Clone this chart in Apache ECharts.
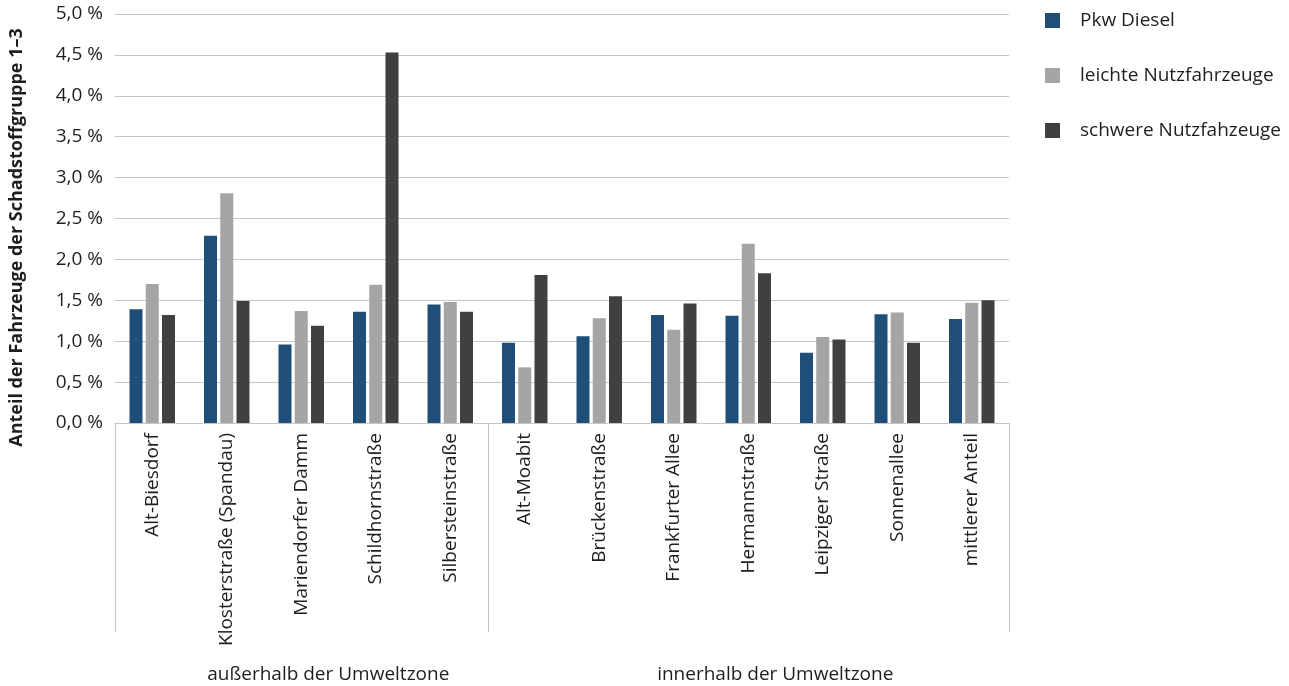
<!DOCTYPE html>
<html>
<head>
<meta charset="utf-8">
<script src="https://cdn.jsdelivr.net/npm/echarts@6/dist/echarts.min.js"></script>
<style>
  html, body { margin: 0; padding: 0; background: #ffffff; }
  #chart { width: 1289px; height: 686px; }
</style>
</head>
<body>
<div id="chart"></div>
<script>
// Messstellen (Kategorien), nach Lage zur Umweltzone gruppiert
const categories = [
  'Alt-Biesdorf', 'Klosterstraße (Spandau)', 'Mariendorfer Damm', 'Schildhornstraße', 'Silbersteinstraße',
  'Alt-Moabit', 'Brückenstraße', 'Frankfurter Allee', 'Hermannstraße', 'Leipziger Straße', 'Sonnenallee', 'mittlerer Anteil'
];
const groupNames = ['außerhalb der Umweltzone', 'innerhalb der Umweltzone'];
const groupSizes = [5, 7];

const seriesNames = ['Pkw Diesel', 'leichte Nutzfahrzeuge', 'schwere Nutzfahzeuge'];

// Anteil der Fahrzeuge der Schadstoffgruppe 1–3 in %
const pkwDiesel      = [1.39, 2.29, 0.96, 1.36, 1.45, 0.98, 1.06, 1.32, 1.31, 0.86, 1.33, 1.27];
const leichteNfz     = [1.70, 2.81, 1.37, 1.69, 1.48, 0.68, 1.28, 1.14, 2.19, 1.05, 1.35, 1.47];
const schwereNfz     = [1.32, 1.49, 1.19, 4.53, 1.36, 1.81, 1.55, 1.46, 1.83, 1.02, 0.98, 1.50];

const yTicks = [0, 0.5, 1, 1.5, 2, 2.5, 3, 3.5, 4, 4.5, 5];

const colors = ['#1F4E79', '#A5A5A5', '#404040'];
const FONT = '"Open Sans", sans-serif';
const FS = 19;
const TEXT = '#1e1e1e';
const LINE = '#C6C6C6';

const chart = echarts.init(document.getElementById('chart'), null, { renderer: 'canvas' });

const values = [pkwDiesel, leichteNfz, schwereNfz];

const option = {
  animation: false,
  backgroundColor: '#ffffff',
  textStyle: { fontFamily: FONT },
  grid: { left: 115, right: 280, top: 14, bottom: 263, containLabel: false },
  legend: {
    orient: 'vertical',
    left: 1040,
    top: 6,
    itemWidth: 15,
    itemHeight: 15,
    itemGap: 36,
    icon: 'rect',
    textStyle: { fontFamily: FONT, fontSize: FS, color: TEXT, padding: [0, 0, 0, 15] },
    data: seriesNames
  },
  xAxis: {
    type: 'category',
    data: categories,
    boundaryGap: true,
    axisLine: { show: true, lineStyle: { color: LINE, width: 1 } },
    axisTick: { show: false },
    axisLabel: {
      rotate: 90,
      margin: 10,
      interval: 0,
      fontFamily: FONT,
      fontSize: FS,
      color: TEXT
    }
  },
  yAxis: {
    type: 'value',
    min: yTicks[0],
    max: yTicks[yTicks.length - 1],
    interval: yTicks[1] - yTicks[0],
    axisLine: { show: false },
    axisTick: { show: false },
    splitLine: { lineStyle: { color: LINE, width: 1 } },
    axisLabel: {
      margin: 12,
      fontFamily: FONT,
      fontSize: FS,
      color: TEXT,
      formatter: v => v.toFixed(1).replace('.', ',') + ' %'
    }
  },
  series: seriesNames.map((name, i) => ({
    name: name,
    type: 'bar',
    data: values[i],
    barWidth: 13,
    barGap: '25%',
    itemStyle: { color: colors[i] }
  }))
};

chart.setOption(option);

// Gruppenrahmen unter der Kategorieachse und Gruppenbeschriftungen
function drawGroups() {
  const c0 = chart.convertToPixel({ xAxisIndex: 0 }, 0);
  const c1 = chart.convertToPixel({ xAxisIndex: 0 }, 1);
  const band = c1 - c0;
  const yBase = chart.convertToPixel({ yAxisIndex: 0 }, 0);
  const yTop = chart.convertToPixel({ yAxisIndex: 0 }, yTicks[yTicks.length - 1]);
  const boxDepth = 209;
  const elements = [];
  let start = 0;
  const bounds = [start];
  groupSizes.forEach(n => { start += n; bounds.push(start); });
  bounds.forEach(b => {
    const x = Math.round(c0 - band / 2 + b * band) + 0.5;
    elements.push({
      type: 'line',
      shape: { x1: x, y1: yBase, x2: x, y2: yBase + boxDepth },
      style: { stroke: LINE, lineWidth: 1 },
      silent: true
    });
  });
  groupNames.forEach((name, g) => {
    const mid = (bounds[g] + bounds[g + 1]) / 2;
    const x = c0 - band / 2 + mid * band + 27;
    elements.push({
      type: 'text',
      x: x,
      y: yBase + 252,
      style: {
        text: name,
        fontFamily: FONT,
        fontSize: FS,
        fill: TEXT,
        align: 'center',
        verticalAlign: 'middle'
      },
      silent: true
    });
  });
  // Achsentitel
  elements.push({
    type: 'text',
    x: 17,
    y: (yBase + yTop) / 2 + 19,
    rotation: Math.PI / 2,
    style: {
      text: 'Anteil der Fahrzeuge der Schadstoffgruppe 1–3',
      fontFamily: FONT,
      fontSize: 18,
      fontWeight: 'bold',
      fill: TEXT,
      align: 'center',
      verticalAlign: 'middle'
    },
    silent: true
  });
  chart.setOption({ graphic: elements });
}
drawGroups();
</script>
</body>
</html>
